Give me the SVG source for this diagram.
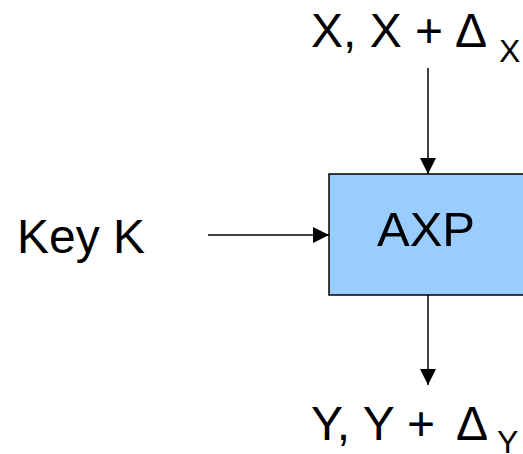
<svg xmlns="http://www.w3.org/2000/svg" width="523" height="454" viewBox="0 0 523 454">
  <style>
    .lbl { font-family: "Liberation Sans", Arial, sans-serif; fill: #000; }
    .wire { stroke: #000; stroke-width: 1.5; fill: none; }
  </style>
  <defs>
    <marker id="head" viewBox="0 0 16 16" refX="16" refY="8" markerWidth="16" markerHeight="16" markerUnits="userSpaceOnUse" orient="auto">
      <path d="M0,0 L16,8 L0,16 Z" fill="#000"/>
    </marker>
  </defs>
  <rect width="523" height="454" fill="#fff"/>

  <g id="axp">
    <rect x="329" y="174" width="210" height="121" fill="#99CCFF" stroke="#000" stroke-width="1.5"/>
    <text class="lbl" x="377" y="246" font-size="49">AXP</text>
  </g>

  <g id="input-x">
    <text class="lbl" x="311" y="47" font-size="48">X, X +<tspan x="455">Δ</tspan><tspan x="499" y="62" font-size="32">X</tspan></text>
  </g>

  <g id="key">
    <text class="lbl" x="17" y="253" font-size="48">Key K</text>
  </g>

  <g id="output-y">
    <text class="lbl" x="311" y="440" font-size="48">Y, Y +<tspan x="456">Δ</tspan><tspan x="497" y="453" font-size="32">Y</tspan></text>
  </g>

  <g id="connectors">
    <line class="wire" x1="428" y1="68" x2="428" y2="174" marker-end="url(#head)"/>
    <line class="wire" x1="208" y1="235" x2="329" y2="235" marker-end="url(#head)"/>
    <line class="wire" x1="428" y1="295" x2="428" y2="385" marker-end="url(#head)"/>
  </g>
</svg>
